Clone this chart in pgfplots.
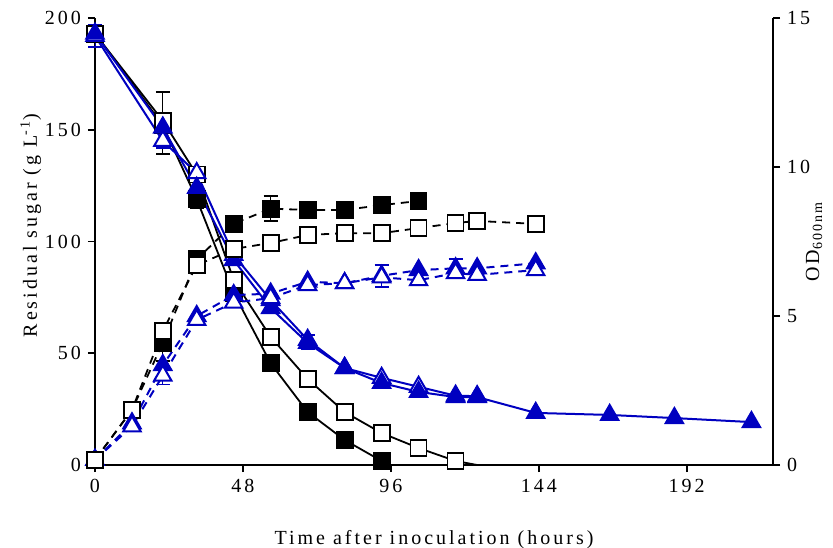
\documentclass[border=0pt]{standalone}
\usepackage{fontspec}
\setmainfont{Liberation Serif}[LetterSpace=15]
\usepackage{pgfplots}
\pgfplotsset{compat=1.18}
\definecolor{sblue}{RGB}{0,0,192}

\pgfplotsset{
  base/.style={
    scale only axis, width=339pt, height=223.5pt,
    xmin=0, xmax=220, clip=false,
    tick align=outside, major tick length=3.5pt,
    tick style={black, line width=0.9pt},
    axis line style={line width=0.9pt},
    /pgf/number format/assume math mode=true,
  },
  sq/.style={black, line width=0.9pt, mark=square*, mark size=4pt, mark options={solid, fill=black}},
  osq/.style={black, line width=0.9pt, mark=square*, mark size=4pt, mark options={solid, fill=white}},
  tri/.style={sblue, line width=1pt, mark=triangle*, mark size=5pt, mark options={solid, fill=sblue}},
  otri/.style={sblue, line width=1pt, mark=triangle*, mark size=5pt, mark options={solid, fill=white}},
  dsh/.style={dash pattern=on 4pt off 3pt},
  eb/.style={only marks, mark=none, line width=0.9pt,
    error bars/.cd, y dir=both, y explicit,
    error mark options={rotate=90, mark size=3.5pt, line width=0.9pt}},
}

\begin{document}
\begin{tikzpicture}
% residual sugar (left axis)
\begin{axis}[base,
  axis x line*=bottom, axis y line*=left,
  ymin=0, ymax=200, ytick={0,50,100,150,200},
  xtick={0,48,96,144,192},
  xlabel={Time after inoculation (hours)},
  xlabel style={yshift=-12pt},
  ylabel={Residual sugar (g L\textsuperscript{-1})},
  ylabel shift=-5pt,
  ylabel style={xshift=8pt},
]
\addplot[black, eb] coordinates {(0,193) +- (0,2) (22,153) +- (0,14) (33,119) +- (0,4)};
\addplot[sblue, eb] coordinates {(0,192) +- (0,5) (22,146) +- (0,4) (69,55) +- (0,3)};
\addplot[sq] coordinates {
  (0,193) (22,152) (33,119) (45,77) (57,45.5) (69,23.7) (81,11.2) (93,1.8)};
\addplot[black, line width=0.9pt] coordinates {(117,1.8) (124,0)};
\addplot[osq] coordinates {
  (0,193) (22,154) (33,130) (45,82.8) (57,57.3) (69,38.5) (81,23.7) (93,14.3) (105,7.6) (117,1.8)};
\addplot[otri] coordinates {
  (0,192) (22,145) (33,130.6) (45,94) (57,73.8) (69,56) (81,43.4) (93,39) (105,35) (117,31) (124,30.8)};
\addplot[tri] coordinates {
  (0,193) (22,151) (33,124) (45,91.7) (57,70.2) (69,54.6) (81,43.4) (93,36.7) (105,32.7)
  (117,30.4) (124,30.4) (143,23.3) (167,22.4) (188,21) (213,19.2)};
\end{axis}
% OD600 (right axis)
\begin{axis}[base,
  axis x line=none, axis y line*=right,
  ymin=0, ymax=15, ytick={0,5,10,15},
  ylabel={OD\textsubscript{600nm}},
  ylabel shift=-9pt,
]
\addplot[black, eb] coordinates {(22,4.1) +- (0,0.6) (57,8.6) +- (0,0.42)};
\addplot[sblue, eb] coordinates {(22,3.0) +- (0,0.3) (93,6.33) +- (0,0.37) (117,6.6) +- (0,0.3)};
\addplot[sq, dsh] coordinates {
  (0,0.17) (12,1.85) (22,4.1) (33,6.9) (45,8.1) (57,8.6) (69,8.56) (81,8.56) (93,8.72) (105,8.86)};
\addplot[osq, dsh] coordinates {
  (0,0.17) (12,1.85) (22,4.5) (33,6.7) (45,7.25) (57,7.45) (69,7.72) (81,7.78) (93,7.78)
  (105,7.95) (117,8.12) (124,8.19) (143,8.09)};
\addplot[tri, dsh] coordinates {
  (0,0.17) (12,1.4) (22,3.35) (33,5.0) (45,5.7) (57,5.75) (69,6.15) (81,6.1) (93,6.35)
  (105,6.54) (117,6.6) (124,6.6) (143,6.77)};
\addplot[otri, dsh] coordinates {
  (0,0.17) (12,1.3) (22,3.0) (33,4.87) (45,5.45) (57,5.6) (69,6.04) (81,6.1) (93,6.3)
  (105,6.2) (117,6.44) (124,6.38) (143,6.54)};
\addplot[osq] coordinates {(0,0.17)};
\end{axis}
\pgfresetboundingbox
\path (-47.5pt,-41pt) rectangle (369pt,232.5pt);
\end{tikzpicture}
\end{document}
